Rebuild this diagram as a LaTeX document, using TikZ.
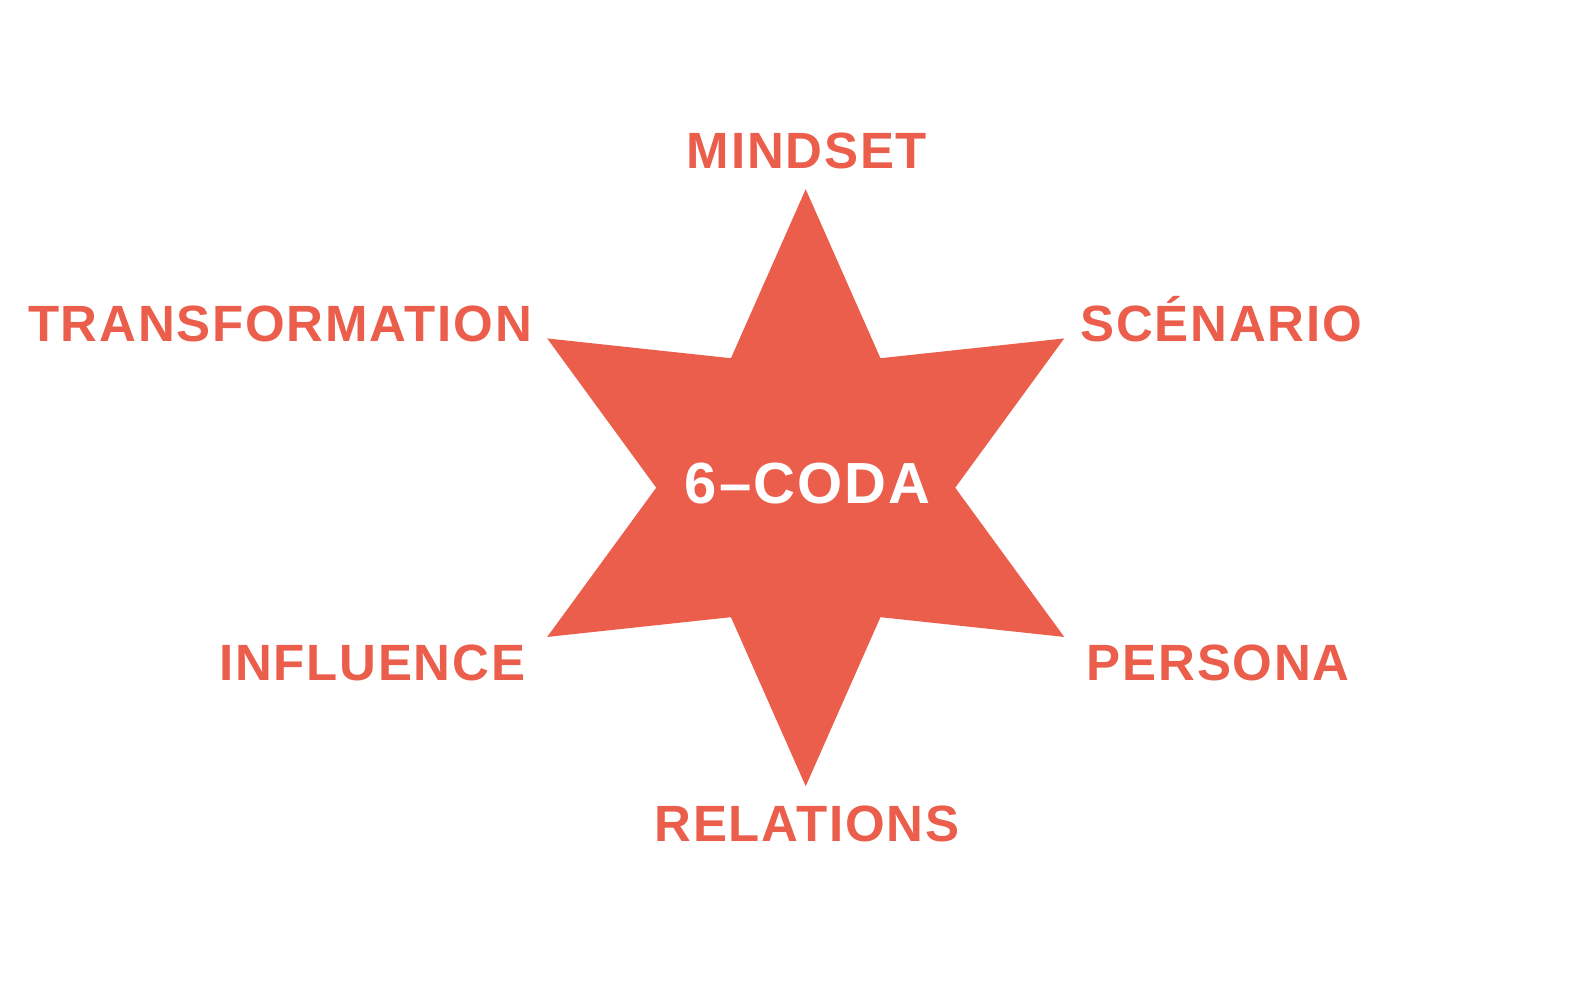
\documentclass[tikz,border=0pt]{standalone}
\usepackage{fontspec}
\setmainfont{Liberation Sans}
\newfontfamily\labelfont[LetterSpace=3.5]{Liberation Sans}
\usepackage{tikz}
\definecolor{codared}{RGB}{235,94,76}
\tikzset{
  hexagram/.style={fill=codared,draw=none},
  axis/.style={font=\labelfont\fontsize{14.5}{17}\selectfont\bfseries,text=codared,
               anchor=base,inner sep=0pt},
  core/.style={axis,text=white,font=\labelfont\fontsize{16.5}{19}\selectfont\bfseries},
}
\begin{document}
\begin{tikzpicture}[x=0.01cm,y=0.01cm]
  \path[use as bounding box] (0,0) rectangle (1588,1000);

  \coordinate (C) at (805.7,512.3);
  \foreach \k in {0,...,5} {
    \coordinate (P\k) at ([shift={(90+60*\k:298.5)}]C);
    \coordinate (Q\k) at ([shift={(120+60*\k:149.5)}]C);
  }
  \fill[hexagram] (P0) -- (Q0) -- (P1) -- (Q1) -- (P2) -- (Q2)
    -- (P3) -- (Q3) -- (P4) -- (Q4) -- (P5) -- (Q5) -- cycle;

  \node[core] (CODA) at (807.7,496.5) {6–CODA};

  \node[axis] (MIND) at (807,831) {MINDSET};
  \node[axis] (TRANS) at (280,658.5) {TRANSFORMATION};
  \node[axis] (SCEN) at (1221.4,658.5) {SCÉNARIO};
  \node[axis] (INFL) at (372.2,319.5) {INFLUENCE};
  \node[axis] (PERS) at (1218.4,319.5) {PERSONA};
  \node[axis] (REL) at (807,158.5) {RELATIONS};
\end{tikzpicture}
\end{document}
